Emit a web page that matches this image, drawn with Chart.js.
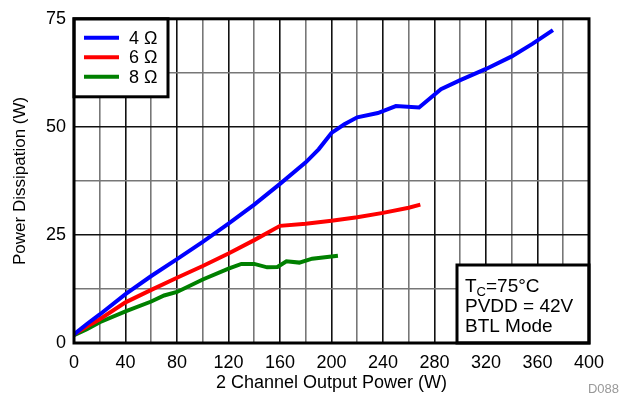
<!DOCTYPE html>
<html>
<head>
<meta charset="utf-8">
<script src="https://cdn.jsdelivr.net/npm/chart.js@4"></script>
<style>
  body { margin: 0; background: #fff; }
</style>
</head>
<body>
<canvas id="chart" width="620" height="396"></canvas>
<script>
// values
const blueX = [0, 10, 20, 40, 60, 80, 100, 120, 140, 160, 180, 190, 200, 210, 220, 236, 250, 268, 285, 300, 320, 340, 356, 372];
const blueY = [2, 4.4, 6.6, 11.3, 15.5, 19.4, 23.4, 27.6, 32.0, 36.8, 41.8, 44.8, 48.6, 50.6, 52.2, 53.2, 54.8, 54.5, 58.7, 60.8, 63.4, 66.3, 69.2, 72.4];

const redX = [0, 10, 20, 40, 60, 80, 100, 120, 140, 160, 180, 200, 220, 240, 260, 269];
const redY = [2, 3.8, 5.5, 9.4, 12.3, 15.1, 17.8, 20.7, 23.8, 27.1, 27.6, 28.3, 29.1, 30.1, 31.3, 32.0];

const greenX = [0, 10, 20, 40, 60, 70, 80, 100, 120, 130, 140, 150, 158, 165, 175, 185, 205];
const greenY = [1.8, 3.2, 4.8, 7.3, 9.6, 11.0, 11.8, 14.7, 17.2, 18.3, 18.3, 17.5, 17.6, 18.9, 18.6, 19.5, 20.2];

const seriesLabels = ['4 \u03A9', '6 \u03A9', '8 \u03A9'];
const noteLines = ['PVDD = 42V', 'BTL Mode'];

const FONT = 'Liberation Sans, Arial, sans-serif';

function pts(xs, ys) {
    return xs.map((x, i) => ({ x: x, y: ys[i] }));
}

function series(label, xs, ys, color) {
    return {
        label: label,
        data: pts(xs, ys),
        borderColor: color,
        backgroundColor: color,
        borderWidth: 4,
        pointRadius: 0,
        tension: 0
    };
}

// legend box, note box, frame and footer tag
const decorations = {
    id: 'decorations',
    afterDatasetsDraw(chart) {
        const ctx = chart.ctx;
        const a = chart.chartArea;
        ctx.save();

        // legend
        ctx.fillStyle = '#fff';
        ctx.fillRect(a.left, a.top, 94, 78);
        ctx.lineWidth = 3;
        ctx.strokeStyle = '#000';
        ctx.strokeRect(a.left, a.top, 94, 78);
        ctx.font = '18px ' + FONT;
        ctx.textBaseline = 'middle';
        chart.data.datasets.forEach((ds, i) => {
            const y = a.top + 19 + i * 19.5;
            ctx.strokeStyle = ds.borderColor;
            ctx.lineWidth = 4;
            ctx.beginPath();
            ctx.moveTo(a.left + 10, y);
            ctx.lineTo(a.left + 45, y);
            ctx.stroke();
            ctx.fillStyle = '#000';
            ctx.fillText(ds.label, a.left + 55, y + 1);
        });

        // note box
        const bx = a.left + 383, by = a.bottom - 78;
        ctx.fillStyle = '#fff';
        ctx.fillRect(bx, by, a.right - bx, a.bottom - by);
        ctx.lineWidth = 3;
        ctx.strokeStyle = '#000';
        ctx.strokeRect(bx, by, a.right - bx, a.bottom - by);
        ctx.fillStyle = '#000';
        ctx.font = '19px ' + FONT;
        ctx.textBaseline = 'alphabetic';
        let x = bx + 8;
        ctx.fillText('T', x, by + 27);
        x += ctx.measureText('T').width;
        ctx.font = '13px ' + FONT;
        ctx.fillText('C', x, by + 31);
        x += ctx.measureText('C').width;
        ctx.font = '19px ' + FONT;
        ctx.fillText('=75\u00B0C', x, by + 27);
        noteLines.forEach((t, i) => ctx.fillText(t, bx + 8, by + 47 + i * 19.5));

        // plot frame
        ctx.lineWidth = 3;
        ctx.strokeStyle = '#000';
        ctx.strokeRect(a.left, a.top, a.right - a.left, a.bottom - a.top);

        // figure tag
        ctx.fillStyle = '#999';
        ctx.font = '13px ' + FONT;
        ctx.textAlign = 'right';
        ctx.textBaseline = 'middle';
        ctx.fillText('D088', 619, 389);
        ctx.restore();
    }
};

new Chart(document.getElementById('chart').getContext('2d'), {
    type: 'line',
    data: {
        datasets: [
            series(seriesLabels[0], blueX, blueY, '#0000ff'),
            series(seriesLabels[1], redX, redY, '#ff0000'),
            series(seriesLabels[2], greenX, greenY, '#008000')
        ]
    },
    options: {
        responsive: false,
        animation: false,
        layout: { padding: { top: 16, right: 31, left: 0, bottom: 0 } },
        plugins: { legend: { display: false }, tooltip: { enabled: false } },
        scales: {
            x: {
                type: 'linear',
                min: 0,
                max: 400,
                afterFit: s => { s.height = 53; },
                ticks: {
                    stepSize: 20,
                    autoSkip: false,
                    maxRotation: 0,
                    padding: 9,
                    color: '#000',
                    font: { family: FONT, size: 18 },
                    callback: v => (v % 40 === 0 ? v : '')
                },
                grid: {
                    drawTicks: false,
                    lineWidth: 1.6,
                    color: c => (c.tick && c.tick.value % 40 === 0 ? '#111' : '#777')
                },
                border: { display: false },
                title: {
                    display: true,
                    text: '2 Channel Output Power (W)',
                    color: '#000',
                    font: { family: FONT, size: 18 },
                    padding: { top: 0, bottom: 2 }
                }
            },
            y: {
                min: 0,
                max: 75,
                afterFit: s => { s.width = 74; },
                ticks: {
                    stepSize: 12.5,
                    autoSkip: false,
                    padding: 8,
                    color: '#000',
                    font: { family: FONT, size: 18 },
                    callback: v => (v % 25 === 0 ? v : '')
                },
                grid: {
                    drawTicks: false,
                    lineWidth: 1.6,
                    color: c => (c.tick && c.tick.value % 25 === 0 ? '#111' : '#777')
                },
                border: { display: false },
                title: {
                    display: true,
                    text: 'Power Dissipation (W)',
                    color: '#000',
                    font: { family: FONT, size: 17 },
                    padding: { top: 10, bottom: 0 }
                }
            }
        }
    },
    plugins: [decorations]
});
</script>
</body>
</html>
